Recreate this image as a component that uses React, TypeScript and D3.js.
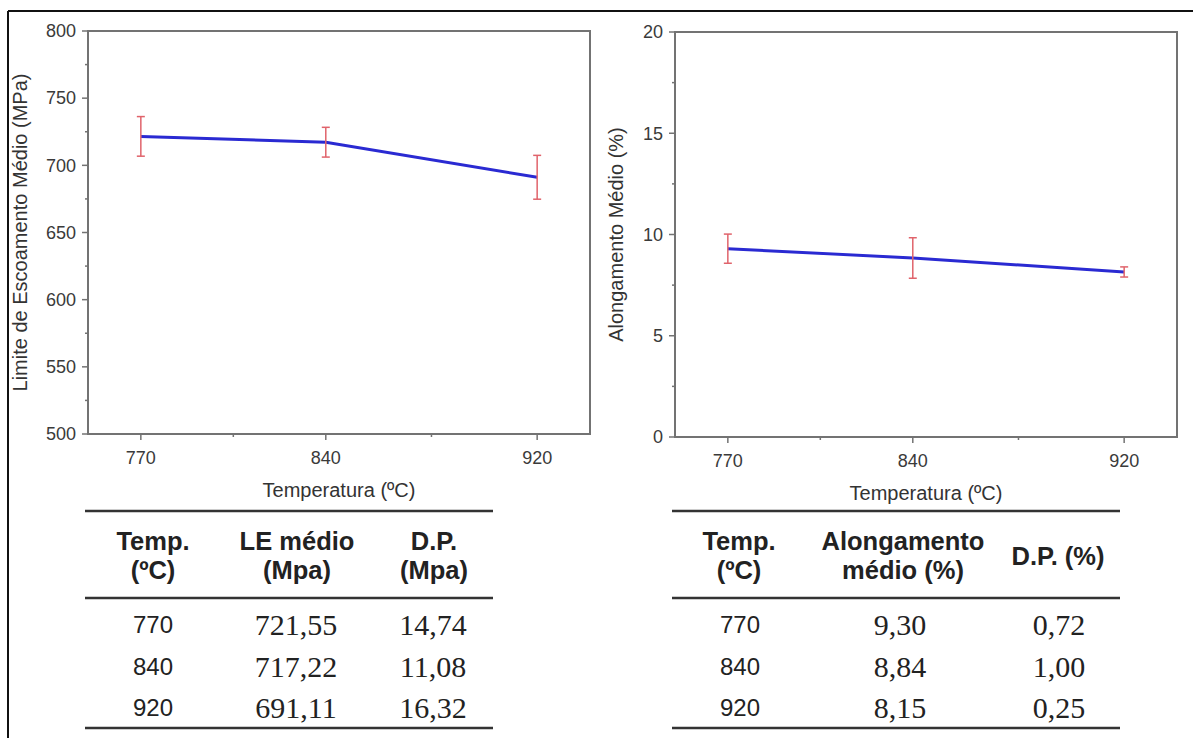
import React, { useEffect, useRef } from "react";
import * as d3 from "d3";

// data
const temps = [770, 840, 920];
const leMedio = [721.55, 717.22, 691.11];
const leDP = [14.74, 11.08, 16.32];
const alongMedio = [9.3, 8.84, 8.15];
const alongDP = [0.72, 1.0, 0.25];

const xTicks = [770, 840, 920];
const xMinor = [805, 880];
const leTicks = [500, 550, 600, 650, 700, 750, 800];
const leMinor = [525, 575, 625, 675, 725, 775];
const alongTicks = [0, 5, 10, 15, 20];
const alongMinor = [2.5, 7.5, 12.5, 17.5];

const W = 1193;
const H = 738;
const sans = "'Liberation Sans', Arial, sans-serif";
const serif = "'Liberation Serif', 'Times New Roman', serif";

const fmt = (v: number) => d3.format(".2f")(v).replace(".", ",");

const App = () => {
  const ref = useRef<SVGSVGElement>(null);

  useEffect(() => {
    drawChart();
  }, []);

  const drawPanel = (svg: any, o: any) => {
    const x = d3.scaleLinear().domain([750, 940]).range([o.left, o.right]);
    const y = d3.scaleLinear().domain(o.yDomain).range([o.bottom, o.top]);
    const g = svg.append("g");
    const axisColor = "#737373";

    // frame
    g.append("rect")
      .attr("x", o.left)
      .attr("y", o.top)
      .attr("width", o.right - o.left)
      .attr("height", o.bottom - o.top)
      .attr("fill", "none")
      .attr("stroke", axisColor)
      .attr("stroke-width", 2);

    // y ticks
    g.selectAll(".ymaj")
      .data(o.yTicks)
      .enter()
      .append("line")
      .attr("x1", o.left - 6)
      .attr("x2", o.left)
      .attr("y1", (d: number) => y(d))
      .attr("y2", (d: number) => y(d))
      .attr("stroke", axisColor)
      .attr("stroke-width", 1.5);
    g.selectAll(".ymin")
      .data(o.yMinor)
      .enter()
      .append("line")
      .attr("x1", o.left - 3)
      .attr("x2", o.left)
      .attr("y1", (d: number) => y(d))
      .attr("y2", (d: number) => y(d))
      .attr("stroke", axisColor)
      .attr("stroke-width", 1.5);
    g.selectAll(".ylab")
      .data(o.yTicks)
      .enter()
      .append("text")
      .attr("x", o.left - 12)
      .attr("y", (d: number) => y(d))
      .attr("dy", "0.35em")
      .attr("text-anchor", "end")
      .attr("font-family", sans)
      .attr("font-size", 18)
      .attr("fill", "#3a3a3a")
      .text((d: number) => d);

    // x ticks
    g.selectAll(".xmaj")
      .data(xTicks)
      .enter()
      .append("line")
      .attr("x1", (d: number) => x(d))
      .attr("x2", (d: number) => x(d))
      .attr("y1", o.bottom)
      .attr("y2", o.bottom + 6)
      .attr("stroke", axisColor)
      .attr("stroke-width", 1.5);
    g.selectAll(".xmin")
      .data(xMinor)
      .enter()
      .append("line")
      .attr("x1", (d: number) => x(d))
      .attr("x2", (d: number) => x(d))
      .attr("y1", o.bottom)
      .attr("y2", o.bottom + 3)
      .attr("stroke", axisColor)
      .attr("stroke-width", 1.5);
    g.selectAll(".xlab")
      .data(xTicks)
      .enter()
      .append("text")
      .attr("x", (d: number) => x(d))
      .attr("y", o.bottom + 24)
      .attr("dy", "0.35em")
      .attr("text-anchor", "middle")
      .attr("font-family", sans)
      .attr("font-size", 18)
      .attr("fill", "#3a3a3a")
      .text((d: number) => d);

    // axis titles
    g.append("text")
      .attr("x", (o.left + o.right) / 2)
      .attr("y", o.bottom + 56)
      .attr("dy", "0.35em")
      .attr("text-anchor", "middle")
      .attr("font-family", sans)
      .attr("font-size", 20)
      .attr("fill", "#333")
      .text("Temperatura (ºC)");
    g.append("text")
      .attr("transform", `translate(${o.yTitleX},${(o.top + o.bottom) / 2}) rotate(-90)`)
      .attr("dy", "0.35em")
      .attr("text-anchor", "middle")
      .attr("font-family", sans)
      .attr("font-size", 20)
      .attr("fill", "#333")
      .text(o.yTitle);

    // line
    const line = d3
      .line<number>()
      .x((d, i) => x(temps[i]))
      .y((d) => y(d));
    g.append("path")
      .datum(o.values)
      .attr("d", line)
      .attr("fill", "none")
      .attr("stroke", "#2a2ad2")
      .attr("stroke-width", 3);

    // error bars
    const eb = g
      .selectAll(".eb")
      .data(o.values)
      .enter()
      .append("g")
      .attr("stroke", "#e0636b")
      .attr("stroke-width", 1.5);
    eb.append("line")
      .attr("x1", (d: number, i: number) => x(temps[i]))
      .attr("x2", (d: number, i: number) => x(temps[i]))
      .attr("y1", (d: number, i: number) => y(d + o.errors[i]))
      .attr("y2", (d: number, i: number) => y(d - o.errors[i]));
    [1, -1].forEach((s) => {
      eb.append("line")
        .attr("x1", (d: number, i: number) => x(temps[i]) - 4)
        .attr("x2", (d: number, i: number) => x(temps[i]) + 4)
        .attr("y1", (d: number, i: number) => y(d + s * o.errors[i]))
        .attr("y2", (d: number, i: number) => y(d + s * o.errors[i]));
    });
  };

  const drawTable = (svg: any, o: any) => {
    const g = svg.append("g");
    [o.top, o.mid, o.bottom].forEach((yy: number) => {
      g.append("line")
        .attr("x1", o.x1)
        .attr("x2", o.x2)
        .attr("y1", yy)
        .attr("y2", yy)
        .attr("stroke", "#333")
        .attr("stroke-width", 2.5);
    });
    o.headers.forEach((h: any) => {
      h.lines.forEach((t: string, k: number) => {
        g.append("text")
          .attr("x", h.x)
          .attr("y", h.y + k * 29)
          .attr("dy", "0.35em")
          .attr("text-anchor", "middle")
          .attr("font-family", sans)
          .attr("font-weight", "bold")
          .attr("font-size", 25.5)
          .attr("fill", "#222")
          .text(t);
      });
    });
    const rowY = [625, 667, 708];
    temps.forEach((t, i) => {
      g.append("text")
        .attr("x", o.cols[0])
        .attr("y", rowY[i])
        .attr("dy", "0.35em")
        .attr("text-anchor", "middle")
        .attr("font-family", sans)
        .attr("font-size", 24)
        .attr("fill", "#222")
        .text(t);
      g.append("text")
        .attr("x", o.cols[1])
        .attr("y", rowY[i])
        .attr("dy", "0.33em")
        .attr("text-anchor", "middle")
        .attr("font-family", serif)
        .attr("font-size", 30)
        .attr("fill", "#222")
        .text(fmt(o.values[i]));
      g.append("text")
        .attr("x", o.cols[2])
        .attr("y", rowY[i])
        .attr("dy", "0.33em")
        .attr("text-anchor", "middle")
        .attr("font-family", serif)
        .attr("font-size", 30)
        .attr("fill", "#222")
        .text(fmt(o.errors[i]));
    });
  };

  const drawChart = () => {
    const svg = d3.select(ref.current);
    svg.selectAll("*").remove();

    svg.append("rect").attr("width", W).attr("height", H).attr("fill", "#fff");
    // outer border (top and left visible)
    svg.append("line").attr("x1", 8).attr("x2", W).attr("y1", 11).attr("y2", 11)
      .attr("stroke", "#111").attr("stroke-width", 2);
    svg.append("line").attr("x1", 8).attr("x2", 8).attr("y1", 11).attr("y2", H)
      .attr("stroke", "#111").attr("stroke-width", 2);

    drawPanel(svg, {
      left: 88, right: 590, top: 31, bottom: 434,
      yDomain: [500, 800], yTicks: leTicks, yMinor: leMinor,
      values: leMedio, errors: leDP,
      yTitle: "Limite de Escoamento Médio (MPa)", yTitleX: 20,
    });
    drawPanel(svg, {
      left: 675, right: 1177, top: 32, bottom: 437,
      yDomain: [0, 20], yTicks: alongTicks, yMinor: alongMinor,
      values: alongMedio, errors: alongDP,
      yTitle: "Alongamento Médio (%)", yTitleX: 616,
    });

    drawTable(svg, {
      x1: 85, x2: 493, top: 511, mid: 598, bottom: 728,
      cols: [153, 296, 433],
      headers: [
        { x: 153, y: 541, lines: ["Temp.", "(ºC)"] },
        { x: 297, y: 541, lines: ["LE médio", "(Mpa)"] },
        { x: 434, y: 541, lines: ["D.P.", "(Mpa)"] },
      ],
      values: leMedio, errors: leDP,
    });
    drawTable(svg, {
      x1: 672, x2: 1120, top: 511, mid: 598, bottom: 728,
      cols: [740, 900, 1059],
      headers: [
        { x: 739, y: 541, lines: ["Temp.", "(ºC)"] },
        { x: 903, y: 541, lines: ["Alongamento", "médio (%)"] },
        { x: 1058, y: 556, lines: ["D.P. (%)"] },
      ],
      values: alongMedio, errors: alongDP,
    });
  };

  return (
    <div>
      <svg
        ref={ref}
        width={W}
        height={H}
        style={{ position: "absolute", left: 0, top: 0, display: "block" }}
      />
    </div>
  );
};

export default App;
